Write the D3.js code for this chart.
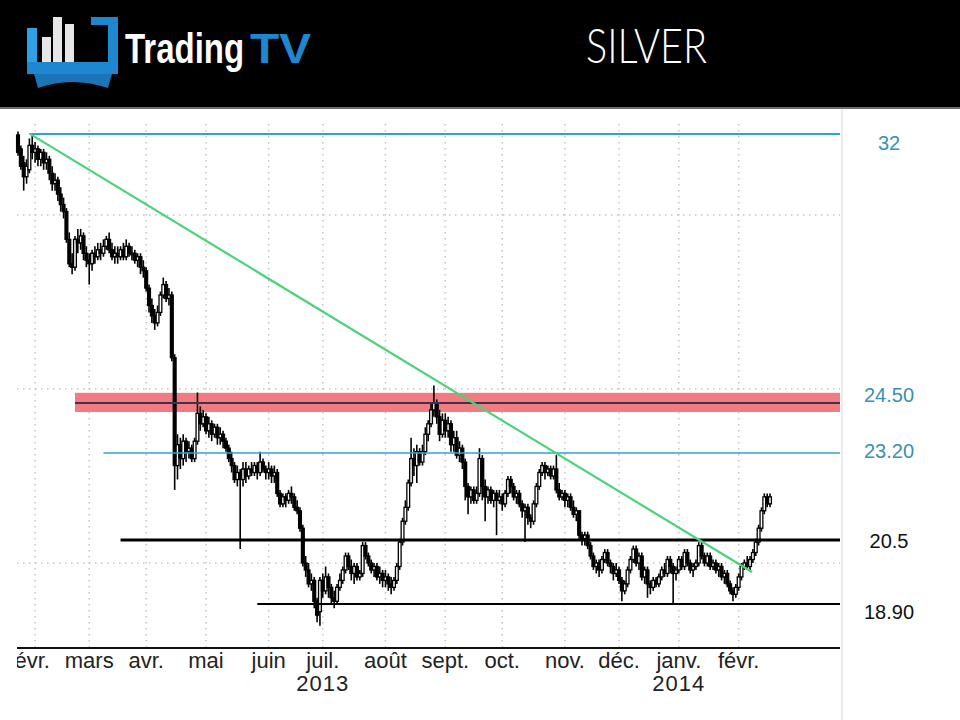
<!DOCTYPE html>
<html>
<head>
<meta charset="utf-8">
<script src="https://cdn.jsdelivr.net/npm/d3@7"></script>
<style>
  body { margin: 0; background: #fff; }
  svg { display: block; }
</style>
</head>
<body>
<svg id="chart" width="960" height="720"></svg>
<script>
// Silver daily candles, late Jan 2013 -> Feb 2014, rows are [open, high, low, close]
const jan13 = [[32.3,32.4,31.7,31.8],[31.9,32.0,31.3,31.4],[31.5,31.7,30.7,31.1],[31.1,31.6,30.9,31.4],[31.3,32.2,31.2,32.0],[32.0,32.3,31.6,31.8]];
const feb13 = [[31.8,32.1,31.5,31.9],[31.9,32.0,31.4,31.6],[31.6,31.9,31.4,31.8],[31.8,31.9,31.3,31.5],[31.5,31.8,31.3,31.6],[31.6,31.7,31.0,31.2],[31.2,31.4,30.7,30.9],[30.9,31.2,30.7,31.0],[31.0,31.1,30.4,30.6],[30.6,30.8,30.1,30.3],[30.3,30.5,29.9,30.1],[30.1,30.2,29.2,29.3],[29.3,29.5,28.5,28.6],[28.6,28.9,28.3,28.5],[28.5,29.4,28.4,29.3],[29.3,29.6,28.9,29.2],[29.2,29.6,29.0,29.4],[29.4,29.5,28.7,28.9],[28.9,29.1,28.5,28.7]];
const mar13 = [[28.7,28.9,28.0,28.6],[28.6,29.0,28.4,28.9],[28.9,29.1,28.6,28.8],[28.8,29.2,28.7,29.0],[29.0,29.2,28.7,28.9],[28.9,29.3,28.8,29.1],[29.1,29.4,29.0,29.3],[29.3,29.5,28.9,29.0],[29.0,29.2,28.7,28.8],[28.8,29.1,28.6,28.9],[28.9,29.1,28.6,28.8],[28.8,29.1,28.7,29.0],[29.0,29.2,28.7,28.8],[28.8,29.3,28.7,29.1],[29.1,29.2,28.8,28.9],[28.9,29.1,28.7,28.9],[28.9,29.0,28.6,28.7],[28.7,28.9,28.5,28.8],[28.8,28.9,28.3,28.5],[28.5,28.7,28.2,28.4]];
const apr13 = [[28.4,28.5,27.8,27.9],[27.9,28.0,27.2,27.4],[27.4,27.6,26.9,27.1],[27.1,27.3,26.7,26.9],[26.9,27.4,26.8,27.2],[27.2,27.8,27.1,27.7],[27.7,28.2,27.6,28.0],[28.0,28.1,27.5,27.6],[27.6,27.9,27.4,27.7],[27.7,27.8,25.8,25.9],[25.9,26.0,22.1,22.8],[22.8,23.7,22.4,23.4],[23.4,23.6,22.7,23.0],[23.0,23.7,22.8,23.5],[23.5,23.6,22.9,23.2],[23.2,23.5,23.0,23.3],[23.3,23.4,22.9,23.0],[23.0,23.6,22.9,23.5],[23.5,24.9,23.4,24.3],[24.3,24.5,23.8,24.0],[24.0,24.4,23.9,24.2]];
const may13 = [[24.2,24.3,23.7,23.8],[23.8,24.2,23.6,24.0],[24.0,24.1,23.5,23.7],[23.7,24.0,23.6,23.9],[23.9,24.0,23.4,23.6],[23.6,23.9,23.4,23.7],[23.7,23.8,23.3,23.5],[23.5,23.6,23.2,23.3],[23.3,23.4,22.9,23.0],[23.0,23.2,22.6,22.8],[22.8,22.9,22.3,22.4],[22.4,22.8,22.2,22.6],[22.6,22.7,20.4,22.4],[22.4,22.9,22.2,22.7],[22.7,22.9,22.3,22.5],[22.5,22.8,22.4,22.7],[22.7,22.9,22.5,22.6],[22.6,22.9,22.5,22.8],[22.8,22.9,22.4,22.6],[22.6,23.2,22.5,22.9],[22.9,23.0,22.6,22.7],[22.7,22.8,22.4,22.6]];
const jun13 = [[22.6,22.9,22.4,22.7],[22.7,22.8,22.3,22.5],[22.5,22.8,22.3,22.6],[22.6,22.7,21.9,22.0],[22.0,22.1,21.6,21.7],[21.7,22.0,21.6,21.9],[21.9,22.0,21.6,21.8],[21.8,22.1,21.7,22.0],[22.0,22.2,21.7,21.9],[21.9,22.0,21.5,21.6],[21.6,21.8,21.4,21.5],[21.5,21.6,20.9,21.0],[21.0,21.1,19.9,20.0],[20.0,20.2,19.6,19.8],[19.8,20.0,19.3,19.4],[19.4,19.7,19.2,19.5],[19.5,19.6,18.7,18.9],[18.9,19.0,18.3,18.5],[18.6,19.6,18.2,19.5]];
const jul13 = [[19.5,19.7,19.0,19.2],[19.2,19.9,19.1,19.6],[19.6,19.7,19.0,19.3],[19.3,19.4,18.8,19.0],[19.0,19.2,18.7,18.9],[18.9,19.4,18.8,19.3],[19.3,19.7,19.2,19.5],[19.5,19.9,19.4,19.8],[19.8,20.3,19.7,20.2],[20.2,20.3,19.8,19.9],[19.9,20.1,19.5,19.7],[19.7,20.0,19.4,19.9],[19.9,20.0,19.5,19.6],[19.6,19.8,19.5,19.7],[19.7,20.6,19.6,20.5],[20.5,20.6,20.1,20.2],[20.2,20.3,19.9,20.0],[20.0,20.1,19.7,19.8],[19.8,20.0,19.6,19.9],[19.9,20.0,19.5,19.6],[19.6,19.9,19.4,19.7],[19.7,19.8,19.3,19.5]];
const aug13 = [[19.5,19.8,19.3,19.6],[19.6,19.7,19.2,19.4],[19.4,19.6,19.1,19.3],[19.3,19.6,19.2,19.5],[19.5,20.0,19.4,19.9],[19.9,20.7,19.8,20.6],[20.6,21.3,20.5,21.2],[21.2,21.8,21.1,21.6],[21.6,22.4,21.5,22.3],[22.3,23.6,22.2,23.0],[23.0,23.3,22.5,22.8],[22.8,23.4,22.3,23.2],[23.2,23.3,22.8,22.9],[22.9,23.4,22.8,23.2],[23.2,23.9,23.1,23.7],[23.7,24.1,23.5,24.0],[24.0,24.6,23.9,24.4],[24.4,25.1,24.2,24.6],[24.6,24.7,24.0,24.2],[24.2,24.4,23.5,23.7],[23.7,24.3,23.6,24.1]];
const sep13 = [[24.1,24.3,23.6,23.8],[23.8,24.2,23.6,24.0],[24.0,24.1,23.2,23.4],[23.4,23.8,23.2,23.6],[23.6,23.8,23.0,23.1],[23.1,23.5,22.9,23.3],[23.3,23.4,22.7,22.9],[22.9,23.0,21.8,22.2],[22.2,22.3,21.4,21.9],[21.9,22.2,21.7,22.1],[22.1,22.2,21.7,21.8],[21.8,22.2,21.7,22.0],[22.0,23.3,21.9,23.0],[23.0,23.1,21.8,22.2],[22.2,22.4,21.2,21.9],[21.9,22.2,21.7,22.1],[22.1,22.2,21.7,21.8],[21.8,22.1,21.6,22.0],[22.0,22.1,20.8,21.8],[21.8,22.1,21.7,21.9]];
const oct13 = [[21.9,22.0,21.5,21.7],[21.7,22.1,21.6,22.0],[22.0,22.5,21.9,22.4],[22.4,22.5,22.0,22.2],[22.2,22.3,21.8,21.9],[21.9,22.1,21.7,22.0],[22.0,22.1,21.6,21.7],[21.7,21.8,21.3,21.5],[21.5,21.7,20.6,21.6],[21.6,21.7,21.1,21.3],[21.3,21.4,21.0,21.2],[21.2,21.8,21.1,21.7],[21.7,22.3,21.6,22.2],[22.2,22.7,22.1,22.6],[22.6,22.9,22.5,22.8],[22.8,22.9,22.4,22.6],[22.6,22.8,22.5,22.7],[22.7,22.8,22.4,22.5],[22.5,22.8,22.4,22.7],[22.7,23.1,22.0,22.1],[22.1,22.3,21.8,21.9],[21.9,22.1,21.8,22.0]];
const nov13 = [[22.0,22.1,21.6,21.8],[21.8,22.0,21.6,21.9],[21.9,22.0,21.5,21.6],[21.6,21.8,21.3,21.4],[21.4,21.6,21.2,21.5],[21.5,21.5,20.7,20.8],[20.8,20.9,20.5,20.7],[20.7,20.9,20.5,20.8],[20.8,20.9,20.4,20.5],[20.5,20.6,20.1,20.2],[20.2,20.3,19.8,19.9],[19.9,20.1,19.7,20.0],[20.0,20.1,19.6,19.8],[19.8,20.2,19.7,20.1],[20.1,20.4,20.0,20.3],[20.3,20.4,19.9,20.0],[20.0,20.1,19.7,19.9],[19.9,20.0,19.5,19.7],[19.7,20.0,19.6,19.8]];
const dec13 = [[19.8,19.9,19.4,19.5],[19.5,19.6,18.9,19.2],[19.2,19.5,19.1,19.4],[19.4,19.9,19.3,19.8],[19.8,20.2,19.7,20.1],[20.1,20.5,20.0,20.4],[20.4,20.5,19.9,20.0],[20.0,20.3,19.8,20.2],[20.2,20.3,19.5,19.6],[19.6,19.9,19.4,19.8],[19.8,19.9,19.0,19.4],[19.4,19.5,19.1,19.3],[19.3,19.6,19.2,19.5],[19.5,19.6,19.3,19.4],[19.4,19.7,19.3,19.6],[19.6,19.9,19.5,19.8],[19.8,20.0,19.6,19.7],[19.7,20.2,19.6,20.1],[20.1,20.2,19.7,19.9],[19.9,20.0,18.8,19.7],[19.7,19.9,19.5,19.8]];
const jan14 = [[19.8,20.2,19.7,20.1],[20.1,20.2,19.8,19.9],[19.9,20.4,19.8,20.3],[20.3,20.4,19.9,20.0],[20.0,20.1,19.7,19.8],[19.8,20.0,19.6,19.9],[19.9,20.1,19.8,20.0],[20.0,20.6,19.9,20.5],[20.5,20.6,20.1,20.2],[20.2,20.3,19.9,20.0],[20.0,20.3,19.9,20.2],[20.2,20.3,19.8,19.9],[19.9,20.1,19.8,20.0],[20.0,20.1,19.7,19.8],[19.8,20.0,19.6,19.9],[19.9,20.0,19.5,19.6],[19.6,19.8,19.4,19.7],[19.7,19.8,19.3,19.4],[19.4,19.5,19.1,19.2],[19.2,19.3,18.9,19.1],[19.1,19.4,19.0,19.3]];
const feb14 = [[19.3,19.7,19.2,19.6],[19.6,20.0,19.5,19.9],[19.9,20.1,19.8,20.0],[20.0,20.2,19.8,19.9],[19.9,20.2,19.8,20.1],[20.1,20.4,20.0,20.3],[20.3,20.7,20.2,20.6],[20.6,21.1,20.5,21.0],[21.0,21.6,20.9,21.5],[21.5,22.0,21.4,21.9],[21.9,22.0,21.6,21.7],[21.7,22.0,21.6,21.9]];

const months = [jan13, feb13, mar13, apr13, may13, jun13, jul13, aug13, sep13, oct13, nov13, dec13, jan14, feb14];
const monthLabels = ["", "févr.", "mars", "avr.", "mai", "juin", "juil.", "août", "sept.", "oct.", "nov.", "déc.", "janv.", "févr."];
const yearLabels = [["juil.", "2013"], ["janv.", "2014"]];

// price grid and drawn levels
const gridPrices = [20, 25, 30];
const levelValues = [32.33, 24.60, 23.16, 20.66, 18.82];
const levelTexts = ["32", "24.50", "23.20", "20.5", "18.90"];
const levelStart = [4, 20, 30, 36, 84];       // candle index where each level starts
const band = [24.34, 24.89];                   // red resistance zone
const trendPoints = [[4.2, 32.33], [257.7, 19.74]];

// ---- flatten candles, keep month starts
const candles = [];
const monthStart = [];
months.forEach(m => {
  monthStart.push(candles.length);
  m.forEach(r => candles.push({o: r[0], h: r[1], l: r[2], c: r[3]}));
});

const svg = d3.select("#chart");
const plotL = 17, plotR = 840, plotT = 124, plotB = 648;

const x = d3.scaleLinear().domain([0, candles.length - 1]).range([18, 770]);
const y = d3.scaleLinear().domain([20, 30]).range([563, 215]);

// ---- header
svg.append("rect").attr("width", 960).attr("height", 108).attr("fill", "#000");
svg.append("rect").attr("y", 107).attr("width", 960).attr("height", 2).attr("fill", "#6e6e6e");

const logo = svg.append("g");
const blue = "#1f87cf";
logo.append("rect").attr("x", 27).attr("y", 28).attr("width", 10).attr("height", 36).attr("fill", "#2fa0e6");
[[42, 37], [53, 17], [65, 24]].forEach(b => {
  logo.append("rect").attr("x", b[0]).attr("y", b[1]).attr("width", 9).attr("height", 63 - b[1]).attr("fill", "#e6e6e6");
});
logo.append("path").attr("d", "M91,17 H118 V68 H108 V25 H91 Z").attr("fill", blue);
logo.append("rect").attr("x", 27).attr("y", 62).attr("width", 91).attr("height", 12).attr("fill", blue);
logo.append("path").attr("d", "M34,74 L112,74 L108,88 Q72,76 38,88 Z").attr("fill", "#1a74b6");
// brand text: narrow lettering, stretched vertically instead of squeezed
logo.append("text").attr("transform", "translate(125,63) scale(1,1.27)")
  .style("font", "bold 33px 'Liberation Sans', Arial, sans-serif")
  .attr("fill", "#fff").text("Trading");
logo.append("text").attr("transform", "translate(250,63) scale(1.45,1.27)")
  .style("font", "bold 33px 'Liberation Sans', Arial, sans-serif")
  .attr("fill", blue).text("TV");

svg.append("text").attr("x", 586).attr("y", 63).attr("textLength", 121).attr("lengthAdjust", "spacingAndGlyphs")
  .style("font", "300 48px Lato, 'Open Sans', sans-serif").attr("fill", "#fff").text("SILVER");

// ---- grid
const dotted = "1.5,4.5";
svg.append("g").selectAll("line").data(gridPrices).join("line")
  .attr("x1", plotL).attr("x2", plotR).attr("y1", d => y(d)).attr("y2", d => y(d))
  .attr("stroke", "#c4c4c4").attr("stroke-width", 1.5).attr("stroke-dasharray", dotted);
svg.append("g").selectAll("line").data(monthStart.slice(1)).join("line")
  .attr("x1", d => x(d)).attr("x2", d => x(d)).attr("y1", plotT).attr("y2", plotB)
  .attr("stroke", "#c4c4c4").attr("stroke-width", 1.5).attr("stroke-dasharray", dotted);

// right border
svg.append("line").attr("x1", 842).attr("x2", 842).attr("y1", 109).attr("y2", 720)
  .attr("stroke", "#e4e4e4").attr("stroke-width", 1.5);

// ---- resistance band (under candles)
svg.append("rect").attr("x", x(levelStart[1])).attr("width", plotR - x(levelStart[1]))
  .attr("y", y(band[1])).attr("height", y(band[0]) - y(band[1]))
  .attr("fill", "#f27b81");

// ---- candles
const bw = 2.8;
const cg = svg.append("g");
cg.selectAll("line").data(candles).join("line")
  .attr("x1", (d, i) => x(i)).attr("x2", (d, i) => x(i))
  .attr("y1", d => y(d.h)).attr("y2", d => y(d.l))
  .attr("stroke", "#000").attr("stroke-width", 1.6);
cg.selectAll("rect").data(candles).join("rect")
  .attr("x", (d, i) => x(i) - bw / 2).attr("width", bw)
  .attr("y", d => y(Math.max(d.o, d.c)))
  .attr("height", d => Math.max(1.5, Math.abs(y(d.o) - y(d.c))))
  .attr("fill", d => d.c >= d.o ? "#fff" : "#000")
  .attr("stroke", "#000").attr("stroke-width", 1.3);

// ---- level lines
const levelStyle = [
  {color: "#2ea3d6", w: 2},
  {color: "#3b3350", w: 2},
  {color: "#2ea3d6", w: 1.5},
  {color: "#000", w: 3},
  {color: "#000", w: 2}
];
svg.append("g").selectAll("line").data(levelValues).join("line")
  .attr("x1", (d, i) => x(levelStart[i])).attr("x2", plotR)
  .attr("y1", d => y(d)).attr("y2", d => y(d))
  .attr("stroke", (d, i) => levelStyle[i].color).attr("stroke-width", (d, i) => levelStyle[i].w);

// ---- trend line
svg.append("path").datum(trendPoints)
  .attr("d", d3.line().x(d => x(d[0])).y(d => y(d[1])))
  .attr("fill", "none").attr("stroke", "#4ad477").attr("stroke-width", 2.2);

// ---- level labels on the right
const labelDy = [9, -8, -2, 1, 8];
const labelColor = ["#3a90b2", "#3a90b2", "#3a90b2", "#111", "#111"];
svg.append("g").selectAll("text").data(levelValues).join("text")
  .attr("x", 889).attr("y", (d, i) => y(d) + labelDy[i]).attr("dy", "0.35em")
  .attr("text-anchor", "middle")
  .style("font", "20px 'Liberation Sans', Arial, sans-serif")
  .attr("fill", (d, i) => labelColor[i])
  .text((d, i) => levelTexts[i]);

// ---- x axis
svg.append("line").attr("x1", plotL).attr("x2", plotR).attr("y1", plotB).attr("y2", plotB)
  .attr("stroke", "#111").attr("stroke-width", 2);

svg.append("clipPath").attr("id", "axisClip").append("rect")
  .attr("x", plotL).attr("y", plotB).attr("width", 960 - plotL).attr("height", 720 - plotB);

const ax = svg.append("g").attr("clip-path", "url(#axisClip)")
  .style("font", "22px 'Liberation Sans', Arial, sans-serif").attr("fill", "#222");
ax.selectAll("text.month").data(monthStart).join("text").attr("class", "month")
  .attr("x", (d, i) => x(d) - (i === 1 ? 6 : 0)).attr("y", 668).attr("text-anchor", "middle")
  .text((d, i) => monthLabels[i]);
ax.selectAll("text.year").data(yearLabels).join("text").attr("class", "year")
  .attr("x", d => x(monthStart[monthLabels.indexOf(d[0], 2)])).attr("y", 691)
  .attr("text-anchor", "middle").attr("letter-spacing", 1)
  .text(d => d[1]);
</script>
</body>
</html>
